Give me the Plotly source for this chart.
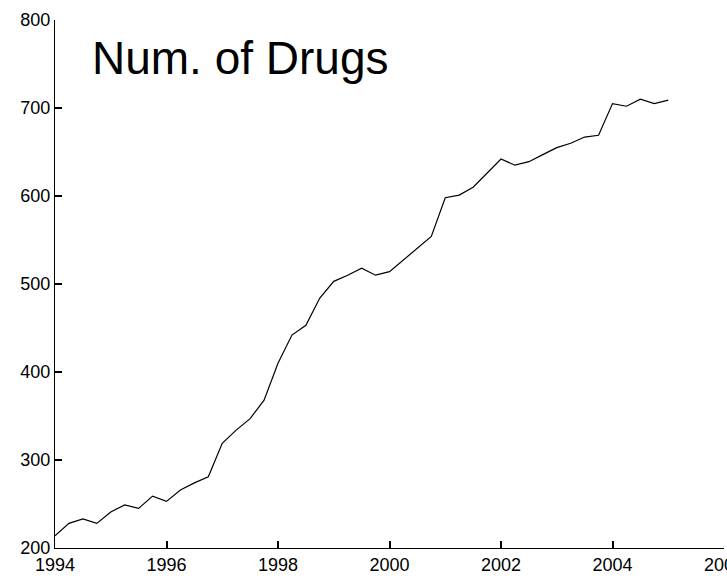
import plotly.graph_objects as go

# Quarterly count of drugs, 1994 Q1 through 2005 Q1
quarters = [1994 + 0.25 * i for i in range(45)]
num_drugs = [
    214, 228, 233, 228,
    241, 249, 245, 259,
    253, 266, 274, 281,
    319, 334, 347, 368,
    410, 442, 453, 484,
    503, 510, 518, 510,
    514, 527, 541, 554,
    598, 601, 610, 626,
    642, 635, 639, 647,
    655, 660, 667, 669,
    705, 702, 710, 705,
    709,
]

x_ticks = [1994, 1996, 1998, 2000, 2002, 2004, 2006]
y_ticks = [200, 300, 400, 500, 600, 700, 800]
title_text = "Num. of Drugs"

label_font = dict(family="Liberation Sans, Arial, sans-serif", size=18, color="black")

fig = go.Figure()
fig.add_trace(go.Scatter(
    x=quarters, y=num_drugs, mode="lines",
    line=dict(color="black", width=1.2),
    showlegend=False, hoverinfo="skip",
))

# Bottom/left axis lines with inward tick marks
axis_style = dict(
    ticks="inside", ticklen=7, tickwidth=1.6, tickcolor="black",
    showline=True, linecolor="black", linewidth=1.3,
    showgrid=False, zeroline=False, tickfont=label_font,
    ticklabeloverflow="allow", automargin=False,
)
fig.update_xaxes(range=[1994, 2006], tickvals=x_ticks, **axis_style)
fig.update_yaxes(range=[200, 800], tickvals=y_ticks, **axis_style)

fig.add_annotation(
    x=1994.63, y=757, xref="x", yref="y",
    text=title_text, showarrow=False,
    xanchor="left", yanchor="middle",
    font=dict(family="Liberation Sans, Arial, sans-serif", size=46, color="black"),
)

fig.update_layout(
    width=727, height=576,
    margin=dict(l=55, r=3, t=20, b=28),
    paper_bgcolor="white", plot_bgcolor="white",
)

fig.write_html("out.html")
